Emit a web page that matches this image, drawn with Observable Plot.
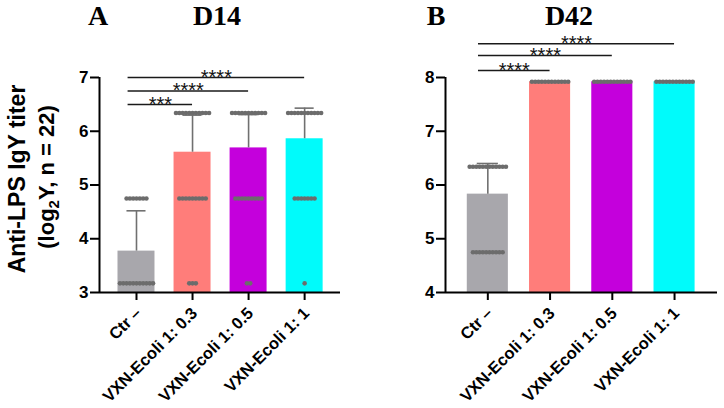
<!DOCTYPE html>
<html>
<head>
<meta charset="utf-8">
<script src="https://cdn.jsdelivr.net/npm/d3@7"></script>
<script src="https://cdn.jsdelivr.net/npm/@observablehq/plot@0.6"></script>
<style>
  body { margin: 0; background: #fff; }
  #chart { position: relative; width: 724px; height: 408px; overflow: hidden; }
  #chart svg { position: absolute; top: 0; }
</style>
</head>
<body>
<div id="chart"></div>
<script>
// Groups and bar colours
const groups = ["Ctr –", "VXN-Ecoli 1: 0.3", "VXN-Ecoli 1: 0.5", "VXN-Ecoli 1: 1"];
const colors = ["#a8a7ac", "#ff7d7a", "#c400dc", "#00fbfb"];

// Day 14: titer levels (log2 of 1:9, 1:27, 1:81) and birds per level
const d14Levels = [3.17, 4.75, 6.34];
const d14Counts = [[11, 7, 0], [3, 9, 11], [2, 9, 11], [1, 7, 11]];
const d14Mean = [3.77, 5.61, 5.69, 5.86];
const d14Err = [0.75, 0.69, 0.62, 0.57];
const d14Ticks = [3, 4, 5, 6, 7];
const d14Compare = [1, 2, 3];
const d14CompareY = [6.5, 6.75, 7.0];
const d14Stars = ["***", "****", "****"];

// Day 42: titer levels (log2 of 1:27, 1:81, 1:243) and birds per level
const d42Levels = [4.75, 6.34, 7.92];
const d42Counts = [[10, 12, 0], [0, 0, 12], [0, 0, 12], [0, 0, 12]];
const d42Mean = [5.83, 7.92, 7.92, 7.92];
const d42Err = [0.57, 0, 0, 0];
const d42Ticks = [4, 5, 6, 7, 8];
const d42Compare = [1, 2, 3];
const d42CompareY = [8.13, 8.41, 8.63];
const d42Stars = ["****", "****", "****"];

const SANS = "'Liberation Sans', Arial, Helvetica, sans-serif";
const SERIF = "'Liberation Serif', 'Times New Roman', serif";

function panel(o) {
  const bars = groups.map((g, i) => ({i, mean: o.means[i], err: o.errs[i], color: colors[i]}));
  const withErr = bars.filter(d => d.err > 0);
  // one dot per bird, spread sideways in a row at its titer level
  const dots = [];
  o.counts.forEach((row, i) => row.forEach((n, j) => {
    for (let k = 0; k < n; k++) dots.push({x: i + (k - (n - 1) / 2) * o.step, y: o.levels[j]});
  }));
  const hw = 0.33, cap = 0.17;
  const brackets = o.compare.map((t, k) => ({x1: -0.15, x2: t, y: o.compareY[k], label: o.stars[k]}));
  const y0 = o.yDomain[0];
  return Plot.plot({
    width: 362,
    height: 408,
    marginTop: 77,
    marginBottom: 116,
    marginLeft: o.marginLeft,
    marginRight: o.marginRight,
    x: {domain: o.xDomain, axis: null},
    y: {domain: o.yDomain, axis: null},
    color: {type: "identity"},
    style: {fontFamily: SANS, background: "transparent", color: "#000", overflow: "visible"},
    marks: [
      Plot.rectY(bars, {x1: d => d.i - hw, x2: d => d.i + hw, y1: y0, y2: "mean", fill: "color"}),
      Plot.ruleX(withErr, {x: "i", y1: "mean", y2: d => d.mean + d.err, stroke: "#707070", strokeWidth: 1.6}),
      Plot.ruleY(withErr, {y: d => d.mean + d.err, x1: d => d.i - cap, x2: d => d.i + cap, stroke: "#707070", strokeWidth: 1.6}),
      Plot.dot(dots, {x: "x", y: "y", r: 2.3, fill: "#6c6c6c", stroke: "none"}),
      Plot.ruleY(brackets, {y: "y", x1: "x1", x2: "x2", stroke: "#1a1a1a", strokeWidth: 1.5}),
      Plot.text(brackets, {x: d => (d.x1 + d.x2) / 2, y: "y", text: "label", fontSize: 20, lineAnchor: "middle", dy: 0, fill: "#111"}),
      Plot.ruleX([o.xDomain[0]], {y1: y0, y2: o.yDomain[1], stroke: "#000", strokeWidth: 2}),
      Plot.ruleY([y0], {x1: o.xDomain[0], x2: o.xDomain[1], stroke: "#000", strokeWidth: 2}),
      Plot.axisY(o.ticks, {tickSize: 9, tickPadding: 2, tickFormat: d3.format("d"), fontSize: 17, fontWeight: "bold", strokeWidth: 2, label: null}),
      Plot.axisX([0, 1, 2, 3], {tickSize: 8, tickFormat: () => "", strokeWidth: 2, label: null}),
      Plot.text(groups, {x: (d, i) => i, y: y0, text: d => d, rotate: -45, textAnchor: "end", lineAnchor: "middle", dy: 18, dx: 2, fontSize: 16.5, fontWeight: "bold"})
    ]
  });
}

const svgA = panel({
  yDomain: [3, 7], ticks: d14Ticks, levels: d14Levels, counts: d14Counts, means: d14Mean, errs: d14Err,
  compare: d14Compare, compareY: d14CompareY, stars: d14Stars,
  xDomain: [-0.66, 3.64], marginLeft: 99, marginRight: 22, step: 0.059
});
const svgB = panel({
  yDomain: [4, 8], ticks: d42Ticks, levels: d42Levels, counts: d42Counts, means: d42Mean, errs: d42Err,
  compare: d42Compare, compareY: d42CompareY, stars: d42Stars,
  xDomain: [-0.68, 3.69], marginLeft: 83, marginRight: 7, step: 0.053
});

const chart = document.getElementById("chart");
svgA.style.left = "0px";
svgB.style.left = "362px";
chart.appendChild(svgA);
chart.appendChild(svgB);

// Panel letters and day titles
function heading(svg, letter, lx, title, tx) {
  const g = d3.select(svg).append("g")
    .attr("font-family", SERIF).attr("font-weight", "bold").attr("font-size", 28)
    .attr("text-anchor", "middle").attr("fill", "#000");
  g.append("text").attr("x", lx).attr("y", 25).text(letter);
  g.append("text").attr("x", tx).attr("y", 25).text(title);
}
heading(svgA, "A", 98, "D14", 217);
heading(svgB, "B", 74, "D42", 207);

// Shared y-axis title
const yt = d3.select(svgA).append("g")
  .attr("font-family", SANS).attr("font-weight", "bold")
  .attr("text-anchor", "middle").attr("fill", "#000");
yt.append("text").attr("transform", "translate(25,179) rotate(-90)").attr("font-size", 23)
  .text("Anti-LPS IgY titer");
const t2 = yt.append("text").attr("transform", "translate(54,177) rotate(-90)").attr("font-size", 22);
t2.append("tspan").text("(log");
t2.append("tspan").attr("font-size", 15).attr("dy", 5).text("2");
t2.append("tspan").attr("dy", -5).text("Y, n = 22)");
</script>
</body>
</html>
